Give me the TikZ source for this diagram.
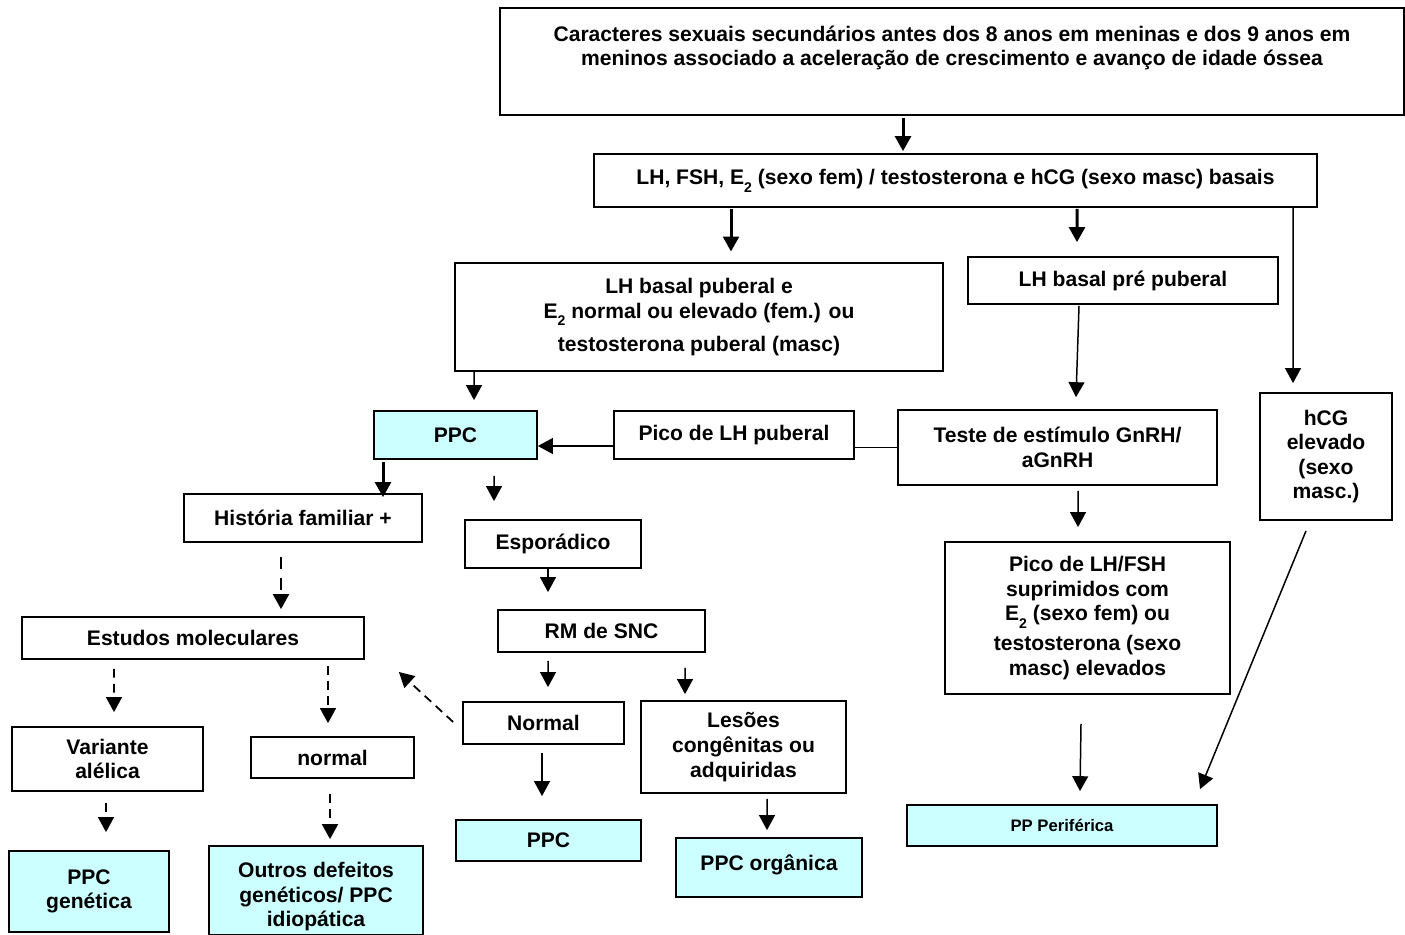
\documentclass[tikz,border=0pt]{standalone}
\usepackage{fontspec}
\setmainfont{Liberation Sans}
\usetikzlibrary{arrows.meta,calc}

\definecolor{ciano}{HTML}{CCFFFF}
\newcommand{\Edois}{E\raisebox{-4.5pt}{\fontsize{8}{8}\selectfont 2}}

\tikzset{
	tam/.style 2 args={minimum width=#1*0.02cm, minimum height=#2*0.02cm},
	caixa/.style={draw, line width=1pt, align=center, inner sep=2pt, font=\bfseries\fontsize{12}{14}\selectfont},
	fina/.style={caixa, line width=0.6pt},
	final/.style={caixa, fill=ciano},
	seta/.style={-{Triangle[length=8.5pt,width=9pt]}, line width=0.85pt},
	grossa/.style={-{Triangle[length=8.5pt,width=9pt]}, line width=1.7pt},
	tracejada/.style={seta, line width=1pt, dash pattern=on 5pt off 3.5pt}
}

\begin{document}
\begin{tikzpicture}[x=0.02cm, y=-0.02cm]
		\useasboundingbox (0,0) rectangle (1405,935);

		% boxes
		\node[caixa, tam={904}{107}]	(inicio)	at (952,61.5)	{Caracteres sexuais secundários antes dos 8 anos em meninas e dos 9 anos em\\meninos associado a aceleração de crescimento e avanço de idade óssea\\[4pt]\mbox{}};
		\node[caixa, tam={723}{53}]		(basais)	at (955.5,180.5)	{LH, FSH, \Edois{} (sexo fem) / testosterona e hCG (sexo masc) basais};
		\node[fina, tam={488}{108}]		(lhpub)		at (699,317)	{LH basal puberal e\\\Edois{} normal ou elevado (fem.) ou\\[5pt]testosterona puberal (masc)};
		\node[caixa, tam={310}{47}]		(lhpre)		at (1123,280.5)	{LH basal pré puberal};
		\node[final, tam={163}{48}]		(ppc)		at (455.5,435)	{PPC};
		\node[fina, tam={240}{48}]		(picopub)	at (734,435)	{Pico de LH puberal};
		\node[caixa, tam={319}{75}]		(teste)		at (1057.5,447.5)	{Teste de estímulo GnRH/\\aGnRH};
		\node[caixa, tam={132}{127}]	(hcg)		at (1326,456.5)	{hCG\\elevado\\(sexo\\masc.)};
		\node[caixa, tam={238}{48}]		(historia)	at (303,518)	{História familiar +};
		\node[caixa, tam={176}{48}]		(esporadico)	at (553,544)	{Esporádico};
		\node[caixa, tam={342}{42}]		(estudos)	at (193,638)	{Estudos moleculares};
		\node[caixa, tam={207}{42}]		(rm)		at (601.5,631)	{RM de SNC};
		\node[caixa, tam={161}{42}]		(normalrm)	at (543.5,723)	{Normal};
		\node[caixa, tam={205}{92}]		(lesoes)	at (743.5,747)	{Lesões\\congênitas ou\\adquiridas};
		\node[caixa, tam={285}{152}]	(suprimidos)	at (1087.5,618)	{Pico de LH/FSH\\suprimidos com\\\Edois{} (sexo fem) ou\\[3pt]testosterona (sexo\\masc) elevados};
		\node[caixa, tam={191}{64}]		(variante)	at (107.5,759)	{Variante\\alélica};
		\node[caixa, tam={163}{41}]		(normalmol)	at (332.5,757.5)	{normal};
		\node[final, tam={160}{81}]		(genetica)	at (89,891.5)	{PPC\\genética};
		\node[final, tam={214}{89}]		(outros)	at (316,890.5)	{\rule{0pt}{16pt}Outros defeitos\\genéticos/ PPC\\idiopática};
		\node[final, tam={185}{41}]		(ppcsnc)	at (548.5,840.5)	{PPC};
		\node[final, tam={186}{59}]		(organica)	at (769,867.5)	{PPC orgânica\\[-9pt]\mbox{}};
		\node[final, tam={310}{41}, font=\bfseries\fontsize{9.5}{11}\selectfont]	(periferica)	at (1062,825.5)	{PP Periférica};

		% thick arrows
		\draw[grossa]	($(inicio.south)+(-49,2)$) -- ($(basais.north)+(-52.5,-2)$);
		\draw[grossa]	($(basais.south)+(-224.5,1)$) -- ($(lhpub.north)+(32,-11)$);
		\draw[grossa]	($(basais.south)+(121.5,1)$) -- ($(lhpre.north)+(-46,-14)$);
		\draw[grossa]	($(ppc.south)+(-72.5,2)$) -- ($(historia.north)+(80,4)$);

		% thin arrows
		\draw[seta]	($(basais.south)+(337.5,0)$) -- ($(hcg.north)+(-33,-9)$);
		\draw[seta]	($(lhpub.south)+(-225,0)$) -- ($(ppc.north)+(18.5,-10)$);
		\draw[seta]	($(lhpre.south)+(-44,1)$) -- ($(teste.north)+(18.5,-12)$);
		\draw[line width=0.85pt]	(teste.west) -- ($(picopub.east)+(0,12.5)$);
		\draw[seta]	($(picopub.west)+(0,11)$) -- ($(ppc.east)+(0,11)$);
		\draw[seta]	($(ppc.south)+(38.5,16)$) -- ($(esporadico.north)+(-59,-18)$);
		\draw[seta]	($(esporadico.south)+(-5,0)$) -- ($(rm.north)+(-53.5,-17)$);
		\draw[seta]	($(rm.south)+(-53.5,8)$) -- ($(normalrm.north)+(4.5,-14)$);
		\draw[seta]	($(rm.south)+(83.5,15)$) -- ($(lesoes.north)+(-58.5,-6)$);
		\draw[seta]	($(normalrm.south)+(-1.5,8)$) -- ($(ppcsnc.north)+(-6.5,-23)$);
		\draw[seta]	($(lesoes.south)+(23.5,5)$) -- ($(organica.north)+(-2,-7)$);
		\draw[seta]	($(teste.south)+(20.5,5)$) -- ($(suprimidos.north)+(-9.5,-14)$);
		\draw[seta]	($(suprimidos.south)+(-6.5,29)$) -- ($(periferica.north)+(18,-13)$);
		\draw[seta]	($(hcg.south)+(-20,10)$) -- ($(periferica.north)+(138,-15)$);

		% dashed arrows
		\draw[tracejada, line width=1.5pt, dash pattern=on 7pt off 5pt]	($(historia.south)+(-22,14)$) -- ($(estudos.north)+(88,-7)$);
		\draw[tracejada]	($(normalrm.west)+(-9,-1)$) -- ($(estudos.east)+(34,34)$);
		\draw[tracejada]	($(estudos.south)+(-79,9)$) -- ($(variante.north)+(6.5,-14)$);
		\draw[tracejada]	($(estudos.south)+(135,6)$) -- ($(normalmol.north)+(-4.5,-13)$);
		\draw[tracejada]	($(variante.south)+(-1.5,11)$) -- ($(genetica.north)+(17,-18)$);
		\draw[tracejada, line width=1.3pt]	($(normalmol.south)+(-2.5,15)$) -- ($(outros.north)+(14,-6)$);
\end{tikzpicture}
\end{document}
